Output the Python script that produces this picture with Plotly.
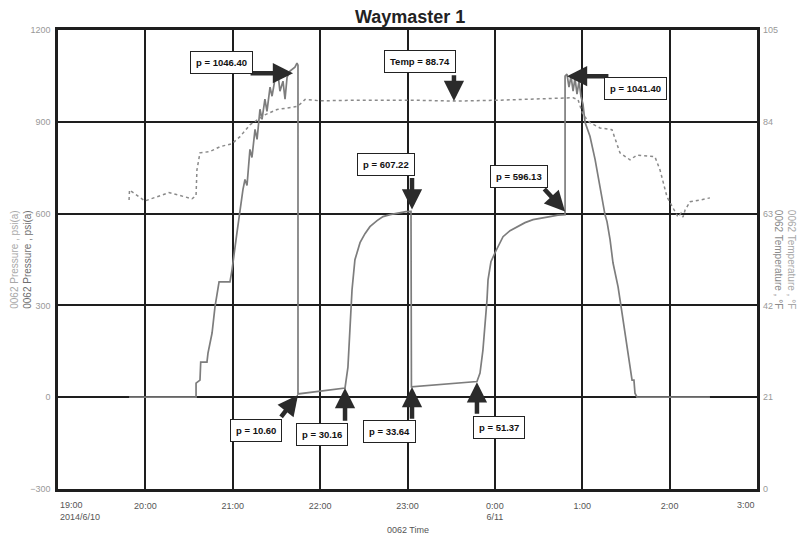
import plotly.graph_objects as go

# ---------------- data ----------------
pressure_time = [
    "19:48:48", "20:34:48", "20:34:48", "20:37:30", "20:38:00", "20:42:18", "20:43:00", "20:45:48",
    "20:47:48", "20:50:36", "20:58:06", "20:59:30", "21:02:54", "21:05:00", "21:07:00", "21:08:24",
    "21:09:48", "21:11:48", "21:13:12", "21:15:18", "21:16:42", "21:18:42", "21:20:06", "21:22:06",
    "21:23:30", "21:25:36", "21:27:00", "21:29:00", "21:31:06", "21:32:24", "21:34:30", "21:35:54",
    "21:37:18", "21:39:18", "21:41:24", "21:42:42", "21:44:06", "21:44:48", "21:44:48",
    "22:17:06", "22:19:06", "22:20:30", "22:21:54", "22:23:54", "22:27:24", "22:30:48", "22:34:12",
    "22:39:06", "22:43:12", "22:48:00", "22:54:54", "22:59:00", "23:02:24", "23:02:42",
    "23:47:42", "23:49:48", "23:51:48", "23:53:12", "23:54:36", "23:55:18", "23:57:18", "00:00:06",
    "00:05:36", "00:10:24", "00:15:12", "00:20:42", "00:26:12", "00:31:00", "00:37:48", "00:43:18",
    "00:48:12", "00:48:12", "00:49:30", "00:50:54", "00:52:18", "00:53:42", "00:55:00", "00:56:24",
    "00:57:48", "00:59:06", "01:00:30", "01:01:54", "01:05:18", "01:08:48", "01:12:12", "01:14:12",
    "01:15:36", "01:17:00", "01:19:06", "01:21:06", "01:24:36", "01:27:18", "01:29:24", "01:31:24",
    "01:34:12", "01:35:30", "01:36:12", "01:37:36", "02:27:42",
]
pressure_psi = [
    0, 0, 45.9, 55.7, 114.8, 114.8, 144.3, 209.8,
    295.1, 377.0, 377.0, 416.4, 537.7, 613.1, 678.7, 711.5,
    691.8, 809.8, 783.6, 875.4, 842.6, 941.0, 908.2, 973.8,
    934.4, 1013.1, 983.6, 1039.3, 1055.7, 1000.0, 1032.8, 973.8,
    1045.9, 1065.6, 1072.1, 1078.7, 1091.8, 1085.2, 10.6,
    30.16, 98.4, 219.7, 350.8, 449.2, 504.9, 534.4, 557.4,
    577.0, 590.2, 596.7, 603.3, 606.6, 607.22, 33.64,
    51.37, 78.7, 154.1, 229.5, 318.0, 383.6, 442.6, 472.1,
    524.6, 544.3, 557.4, 570.5, 580.3, 585.2, 590.2, 595.1,
    596.13, 1049.2, 1055.7, 1013.1, 1049.2, 1000.0, 1042.6, 990.2,
    1032.8, 983.6, 957.4, 898.4, 852.5, 777.0, 688.5, 623.0,
    596.7, 573.8, 514.8, 439.3, 360.7, 275.4, 209.8, 131.1,
    55.7, 55.7, 13.1, 0, 0,
]

temp_time = [
    "19:48:48", "19:49:06", "19:59:42", "20:16:12", "20:32:00", "20:34:48", "20:35:24", "20:37:30",
    "20:44:24", "20:51:12", "20:59:30", "21:05:00", "21:11:48", "21:22:06", "21:30:24", "21:44:06",
    "21:47:36", "21:49:36", "21:59:54", "22:27:24", "23:01:42", "23:33:18", "00:03:30", "00:31:00",
    "00:48:12", "00:53:42", "00:57:06", "01:00:30", "01:05:18", "01:12:12", "01:20:24", "01:25:54",
    "01:32:48", "01:37:36", "01:49:54", "01:53:24", "01:58:12", "02:05:48", "02:07:48", "02:09:12",
    "02:10:36", "02:14:00", "02:20:54", "02:27:42",
]
temp_f = [
    66.1, 68.4, 65.9, 67.8, 66.4, 67.1, 73.0, 76.9,
    77.2, 78.3, 79.0, 80.6, 83.3, 85.6, 86.8, 87.5,
    88.4, 89.1, 88.8, 88.95, 88.95, 88.74, 88.95, 89.2,
    89.5, 89.5, 89.07, 85.6, 83.8, 82.6, 82.2, 76.9,
    75.3, 76.4, 76.0, 73.0, 66.8, 62.2, 63.1, 62.2,
    63.8, 65.7, 66.1, 66.6,
]

hour_ticks = ["19:00", "20:00", "21:00", "22:00", "23:00", "00:00", "01:00", "02:00", "03:00"]
hour_labels = ["19:00<br>2014/6/10", "20:00", "21:00", "22:00", "23:00", "0:00<br>6/11", "1:00", "2:00", "3:00"]
pressure_ticks = [-300, 0, 300, 600, 900, 1200]
temp_ticks = [0, 21, 42, 63, 84, 105]

# callouts: text, axis, tip (time, value), tail (time, value), label centre (time, value)
callouts = [
    ("p = 1046.40", "y",  ("21:41:24", 1059), ("21:11:12", 1059), ("20:52:18", 1093)),
    ("Temp = 88.74", "y2", ("23:31:54", 88.74), ("23:31:54", 95.0), ("23:08:54", 97.7)),
    ("p = 1041.40", "y",  ("00:49:30", 1049), ("01:19:00", 1049), ("01:36:54", 1010)),
    ("p = 607.22", "y",   ("23:03:06", 613), ("23:03:06", 721), ("22:45:12", 761)),
    ("p = 596.13", "y",   ("00:48:12", 607), ("00:33:00", 685), ("00:16:54", 720)),
    ("p = 10.60", "y",    ("21:44:48", 7), ("21:32:24", -69), ("21:16:18", -108)),
    ("p = 30.16", "y",    ("22:17:06", 30), ("22:17:06", -82), ("22:01:00", -121)),
    ("p = 33.64", "y",    ("23:03:06", 33), ("23:03:06", -75), ("22:47:36", -113)),
    ("p = 51.37", "y",    ("23:47:42", 49), ("23:47:42", -59), ("00:02:48", -98)),
]


def stamp(t):
    """Attach the date: times before noon belong to 2014-06-11."""
    day = "2014-06-11" if int(t[:2]) < 12 else "2014-06-10"
    return f"{day} {t}"


FONT = "Liberation Sans Narrow, Arial Narrow, Liberation Sans, Arial, sans-serif"
TICKFONT = dict(family=FONT, size=9, color="#555")

fig = go.Figure()
fig.add_trace(go.Scatter(
    x=[stamp(t) for t in temp_time], y=temp_f, yaxis="y2", mode="lines",
    line=dict(color="#8a8a8a", width=1.5, dash="dot"), showlegend=False, hoverinfo="skip"))
fig.add_trace(go.Scatter(
    x=[stamp(t) for t in pressure_time], y=pressure_psi, mode="lines",
    line=dict(color="#7d7d7d", width=1.7), showlegend=False, hoverinfo="skip"))

annotations = []
for text, yax, tip, tail, lab in callouts:
    annotations.append(dict(
        x=stamp(tip[0]), y=tip[1], xref="x", yref=yax,
        ax=stamp(tail[0]), ay=tail[1], axref="x", ayref=yax,
        text="", showarrow=True, arrowhead=2, arrowsize=0.9, arrowwidth=4.5,
        arrowcolor="#2b2b2b", standoff=0, startstandoff=0))
    annotations.append(dict(
        x=stamp(lab[0]), y=lab[1], xref="x", yref=yax, text=f"<b>{text}</b>",
        showarrow=False, font=dict(family=FONT, size=9.5, color="#111"),
        bgcolor="white", bordercolor="#222", borderwidth=1, borderpad=5))

# first and last time labels are aligned to the plot edges, as in the original
tick_text_shown = [""] + hour_labels[1:-1] + [""]
annotations.append(dict(
    x=stamp(hour_ticks[0]), y=0, xref="x", yref="paper", yshift=-9, showarrow=False,
    text=hour_labels[0], font=TICKFONT, xanchor="left", yanchor="top", align="left"))
annotations.append(dict(
    x=stamp(hour_ticks[-1]), y=0, xref="x", yref="paper", yshift=-9, showarrow=False,
    text=hour_labels[-1], font=TICKFONT, xanchor="right", yanchor="top", align="right"))

# axis titles
annotations.append(dict(
    x=-0.054, y=0.5, xref="paper", yref="paper", textangle=-90, showarrow=False,
    text="<span style='color:#a8a8a8'>0062 Pressure , psi(a)</span><br>"
         "<span style='color:#6e6e6e'>0062 Pressure , psi(a)</span>",
    font=dict(family=FONT, size=10), xanchor="center", yanchor="middle"))
annotations.append(dict(
    x=1.041, y=0.5, xref="paper", yref="paper", textangle=90, showarrow=False,
    text="<span style='color:#a8a8a8'>0062 Temperature , °F</span><br>"
         "<span style='color:#8a8a8a'>0062 Temperature , °F</span>",
    font=dict(family=FONT, size=10), xanchor="center", yanchor="middle"))
annotations.append(dict(
    x=0.5, y=-0.089, xref="paper", yref="paper", showarrow=False, text="0062 Time",
    font=dict(family=FONT, size=9, color="#555"), xanchor="center", yanchor="middle"))

fig.update_layout(
    width=801, height=531,
    margin=dict(l=50, r=52, t=22, b=50),
    paper_bgcolor="white", plot_bgcolor="white",
    title=dict(text="<b>Waymaster 1</b>", x=0.502, xanchor="center", y=0.995, yanchor="top",
               pad=dict(t=0, b=0), font=dict(family=FONT, size=18, color="#222")),
    xaxis=dict(
        type="date", range=[stamp(hour_ticks[0]), stamp(hour_ticks[-1])],
        tickvals=[stamp(t) for t in hour_ticks], ticktext=tick_text_shown,
        showgrid=True, gridcolor="#1e1e1e", gridwidth=1.6,
        showline=True, linecolor="#1e1e1e", linewidth=2.5, mirror=True,
        ticks="", ticklabelstandoff=6, tickfont=TICKFONT, zeroline=False),
    yaxis=dict(
        range=[pressure_ticks[0], pressure_ticks[-1]], tickvals=pressure_ticks,
        showgrid=True, gridcolor="#1e1e1e", gridwidth=2.2, zeroline=False,
        showline=True, linecolor="#1e1e1e", linewidth=2.5, mirror=True,
        ticks="", ticklabelstandoff=3, tickfont=dict(family=FONT, size=9, color="#999")),
    yaxis2=dict(
        range=[temp_ticks[0], temp_ticks[-1]], tickvals=temp_ticks, overlaying="y", side="right",
        showgrid=False, zeroline=False, ticks="", ticklabelstandoff=5,
        tickfont=dict(family=FONT, size=9, color="#999")),
    annotations=annotations,
)

fig.write_html("out.html")
